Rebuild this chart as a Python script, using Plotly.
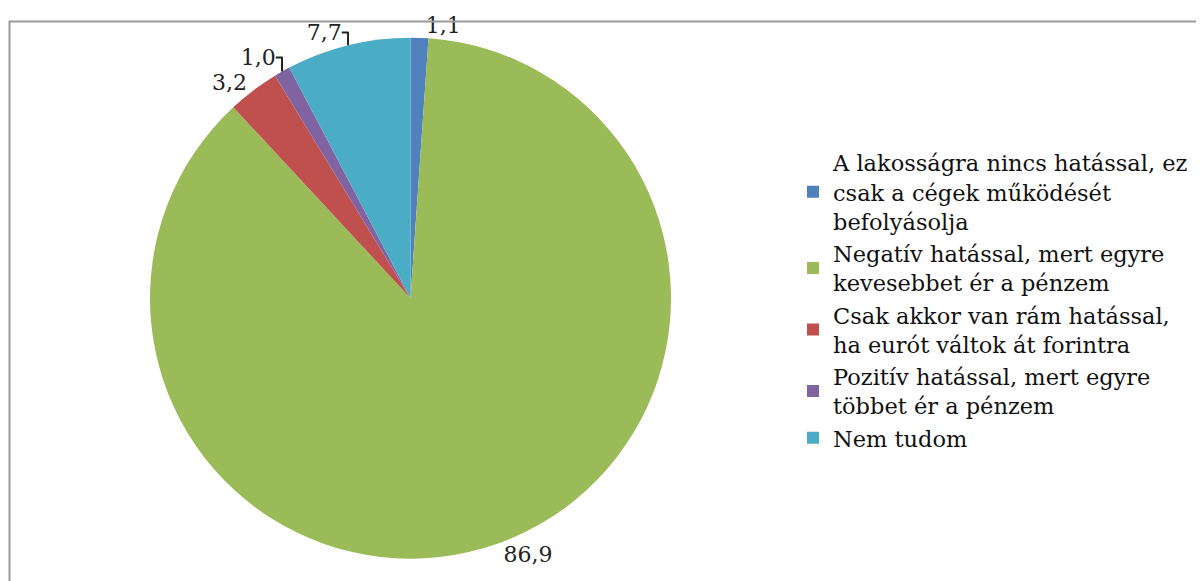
import plotly.graph_objects as go

labels = [
    "A lakosságra nincs hatással, ez<br>csak a cégek működését<br>befolyásolja",
    "Negatív hatással, mert egyre<br>kevesebbet ér a pénzem",
    "Csak akkor van rám hatással,<br>ha eurót váltok át forintra",
    "Pozitív hatással, mert egyre<br>többet ér a pénzem",
    "Nem tudom",
]
values = [1.1, 86.9, 3.2, 1.0, 7.7]
colors = ["#4F81BD", "#9BBB59", "#C0504D", "#8064A2", "#4BACC6"]

W, H = 1204, 581
cx, cy, r = 402.5, 284, 266
FONT = "DejaVu Serif"

fig = go.Figure(go.Pie(
    labels=labels,
    values=values,
    sort=False,
    direction="clockwise",
    rotation=0,
    marker=dict(colors=colors, line=dict(width=0)),
    textposition="outside",
    texttemplate="%{value:.1f}",
    textfont=dict(family=FONT, size=22, color="#222"),
    hoverinfo="label+value",
    domain=dict(x=[(cx - r) / W, (cx + r) / W], y=[1 - (cy + r) / H, 1 - (cy - r) / H]),
))

fig.update_layout(
    width=W, height=H,
    margin=dict(l=0, r=0, t=0, b=0),
    separators=", ",
    paper_bgcolor="white",
    font=dict(family=FONT),
    showlegend=True,
    legend=dict(
        x=785 / W, y=1 - 124 / H, xanchor="left", yanchor="top",
        font=dict(family=FONT, size=22.5, color="#111"),
        bgcolor="rgba(0,0,0,0)", tracegroupgap=0,
    ),
    shapes=[dict(type="rect", xref="paper", yref="paper",
                 x0=1.5 / W, x1=1.02, y0=-0.02, y1=1 - 1.5 / H,
                 line=dict(color="#9a9a9a", width=2), fillcolor="rgba(0,0,0,0)")],
)

fig.write_html("out.html")
